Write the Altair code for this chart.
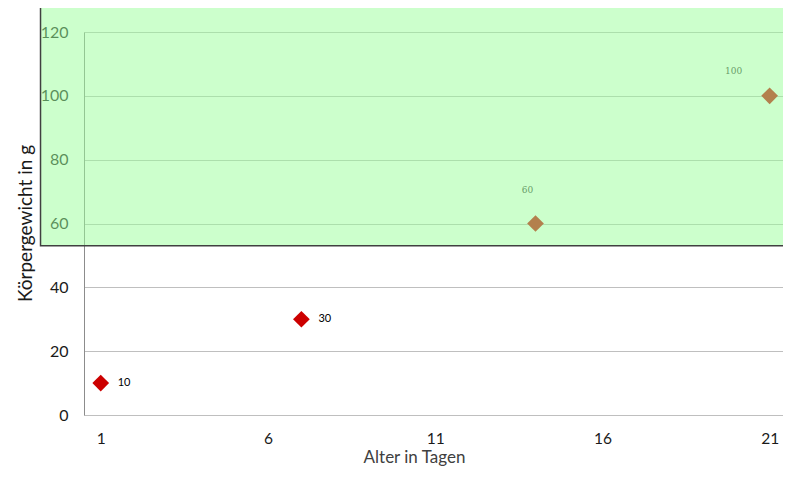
import altair as alt
import pandas as pd

# data
days = [1, 7, 14, 21]
weights = [10, 30, 60, 100]
x_ticks = [1, 6, 11, 16, 21]
y_ticks = [0, 20, 40, 60, 80, 100, 120]
# highlighted zone (in data units)
zone_day = [-0.8, 23]
zone_weight = [53, 128.2]

df = pd.DataFrame({"Tag": days, "Gewicht": weights})
zone = pd.DataFrame({"Tag": [zone_day[0]], "Tag2": [zone_day[1]],
                     "Gewicht": [zone_weight[0]], "Gewicht2": [zone_weight[1]]})

FONT = "Lato"
xs = alt.Scale(domain=[0.5, 21.4], nice=False, zero=False)
ys = alt.Scale(domain=[0, 120], nice=False)

x_axis = alt.Axis(values=x_ticks, grid=False, domain=False, ticks=False, tickSize=0,
                  labelPadding=23, labelBaseline="middle", labelFontSize=15.5,
                  labelColor="#1a1a1a", labelFont=FONT,
                  title="Alter in Tagen", titleFont=FONT, titleFontSize=17,
                  titleFontWeight="normal", titleColor="#404040",
                  titleX=330, titleY=47, titleBaseline="alphabetic", titleAlign="center")
y_axis = alt.Axis(values=y_ticks, grid=True, gridColor="#bfbfbf", gridWidth=1,
                  domain=True, domainColor="#8c8c8c", ticks=False, tickSize=0,
                  labelPadding=16, labelFontSize=16, labelColor="#1a1a1a", labelFont=FONT,
                  title="Körpergewicht in g", titleFont=FONT, titleFontSize=19,
                  titleFontWeight="normal", titleColor="#1a1a1a",
                  titleX=-59, titleY=191, titleBaseline="middle", titleAlign="center",
                  titleAngle=270)

base = alt.Chart(df).encode(
    x=alt.X("Tag:Q", scale=xs, axis=x_axis),
    y=alt.Y("Gewicht:Q", scale=ys, axis=y_axis),
)

points = base.mark_point(shape="diamond", filled=True, size=280, color="#cc0000", opacity=1)

labels_low = base.transform_filter("datum.Gewicht < 50").mark_text(
    align="left", baseline="middle", dx=17, fontSize=11, font=FONT, color="#000000"
).encode(text="Gewicht:Q")

label_60 = base.transform_filter("datum.Gewicht == 60").mark_text(
    align="center", baseline="middle", dx=-8, dy=-34, fontSize=9,
    font="DejaVu Serif", color="#333333"
).encode(text="Gewicht:Q")

label_100 = base.transform_filter("datum.Gewicht == 100").mark_text(
    align="center", baseline="middle", dx=-36, dy=-25, fontSize=9,
    font="DejaVu Serif", color="#333333"
).encode(text="Gewicht:Q")

overlay = alt.Chart(zone).mark_rect(
    clip=False, fill="#99ff99", fillOpacity=0.5, stroke="#404040", strokeWidth=1.5
).encode(
    x=alt.X("Tag:Q", scale=xs, axis=x_axis), x2="Tag2:Q",
    y=alt.Y("Gewicht:Q", scale=ys, axis=y_axis), y2="Gewicht2:Q",
)

chart = alt.layer(points, labels_low, label_60, label_100, overlay).properties(
    width=699, height=383,
    autosize=alt.AutoSizeParams(type="none"),
    padding={"left": 76, "top": 24, "right": 0, "bottom": 51},
).configure_view(stroke=None).configure(background="white")

chart.save("out.html", embed_options={"renderer": "svg", "actions": False})
